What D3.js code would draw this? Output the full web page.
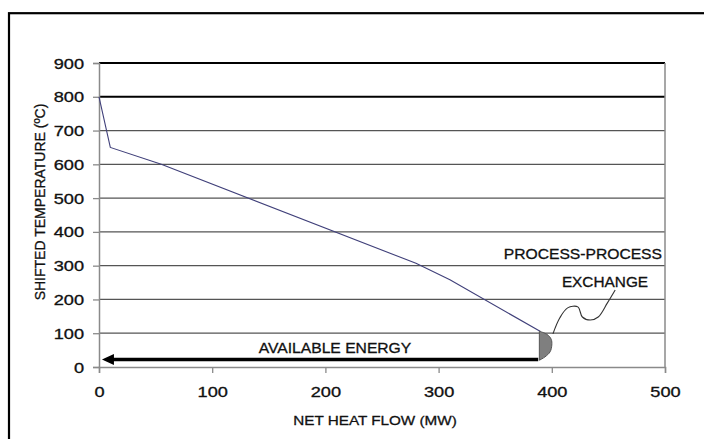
<!DOCTYPE html>
<html>
<head>
<meta charset="utf-8">
<script src="https://cdn.jsdelivr.net/npm/d3@7"></script>
<style>
  html, body { margin: 0; padding: 0; background: #fff; }
  svg { display: block; font-family: "Liberation Sans", Arial, sans-serif; }
  text { stroke: #111; stroke-width: 0.3px; }
</style>
</head>
<body>
<svg id="chart" width="704" height="439"></svg>
<script>
// ---- data ----
const xTicks = [0, 100, 200, 300, 400, 500];
const yTicks = [0, 100, 200, 300, 400, 500, 600, 700, 800, 900];
const heatFlow = [0, 10, 55, 280, 310, 390];          // MW
const temperature = [800, 650, 600, 307, 258, 105];  // °C
const exchangeX = [389, 396, 399.5, 400, 398.5, 394, 389];
const exchangeY = [106, 96, 82, 65, 45, 30, 20];
const leaderX = [401, 407, 414, 423, 427, 434, 441, 449, 456];
const leaderY = [98, 145, 175, 178, 148, 139, 148, 189, 228];
const arrowFrom = [388, 22];
const arrowTo = [2.6, 22];
const xTitle = "NET HEAT FLOW (MW)";
const yTitle = "SHIFTED TEMPERATURE (ºC)";
const labelEnergy = "AVAILABLE ENERGY";
const labelProc = "PROCESS-PROCESS";
const labelExch = "EXCHANGE";

// ---- layout ----
const svg = d3.select("#chart");
const x = d3.scaleLinear().domain([0, 500]).range([99, 665]);
const y = d3.scaleLinear().domain([0, 900]).range([367, 63]);

// outer frame
svg.append("rect").attr("x", 9).attr("y", 13.2).attr("width", 720).attr("height", 460)
  .attr("fill", "none").attr("stroke", "#000").attr("stroke-width", 2.2);

// gridlines
svg.append("g").selectAll("line").data(yTicks.filter(d => d > 0)).join("line")
  .attr("x1", x(0)).attr("x2", x(500))
  .attr("y1", d => y(d)).attr("y2", d => y(d))
  .attr("stroke", d => d >= 800 ? "#000" : "#555")
  .attr("stroke-width", d => d >= 800 ? 2 : 1.2);

// right border of plot
svg.append("line").attr("x1", x(500)).attr("x2", x(500)).attr("y1", y(900)).attr("y2", y(0))
  .attr("stroke", "#8a8a8a").attr("stroke-width", 1.5);

// axes
const yAxis = d3.axisLeft(y).tickValues(yTicks).tickSize(6).tickPadding(9).tickFormat(d3.format("d"));
const xAxis = d3.axisBottom(x).tickValues(xTicks).tickSize(6).tickPadding(14).tickFormat(d3.format("d"));

const gy = svg.append("g").attr("transform", `translate(${x(0)},0)`).call(yAxis);
const gx = svg.append("g").attr("transform", `translate(0,${y(0)})`).call(xAxis);
[gx, gy].forEach(g => {
  g.select(".domain").attr("stroke", "#8a8a8a").attr("stroke-width", 1.5);
  g.selectAll(".tick line").attr("stroke", "#8a8a8a").attr("stroke-width", 1.3);
  g.selectAll(".tick text").attr("font-size", 14).attr("fill", "#111")
    .attr("font-family", "'Liberation Sans', Arial, sans-serif");
});
gy.selectAll(".tick text").each(function() {
  d3.select(this).attr("x", null).attr("dy", null).attr("text-anchor", "end")
    .attr("transform", "translate(-15,5) scale(1.3,1)");
});
gx.selectAll(".tick text").each(function() {
  d3.select(this).attr("y", null).attr("dy", null).attr("text-anchor", "middle")
    .attr("transform", "translate(0,30) scale(1.3,1)");
});

// curve
const pts = heatFlow.map((d, i) => [d, temperature[i]]);
svg.append("path").datum(pts)
  .attr("d", d3.line().x(d => x(d[0])).y(d => y(d[1])))
  .attr("fill", "none").attr("stroke", "#40407a").attr("stroke-width", 1.1);

// exchange shape
const ex = exchangeX.map((d, i) => [d, exchangeY[i]]);
svg.append("path").datum(ex)
  .attr("d", d3.line().x(d => x(d[0])).y(d => y(d[1])).curve(d3.curveCatmullRom)(ex) + "Z")
  .attr("fill", "#7f7f7f").attr("stroke", "#555").attr("stroke-width", 1);

// leader line
const ld = leaderX.map((d, i) => [d, leaderY[i]]);
svg.append("path").datum(ld)
  .attr("d", d3.line().x(d => x(d[0])).y(d => y(d[1])).curve(d3.curveCatmullRom))
  .attr("fill", "none").attr("stroke", "#333").attr("stroke-width", 1.1);

// arrow
const ax1 = x(arrowFrom[0]), ay = y(arrowFrom[1]), tip = x(arrowTo[0]);
svg.append("line").attr("x1", ax1).attr("x2", tip + 10).attr("y1", ay).attr("y2", ay)
  .attr("stroke", "#000").attr("stroke-width", 3.6);
svg.append("path")
  .attr("d", `M${tip},${ay} L${tip + 12},${ay - 5.5} L${tip + 12},${ay + 5.5} Z`)
  .attr("fill", "#000");

// annotation texts
function label(txt, px, py, anchor, size, sx) {
  svg.append("text").text(txt)
    .attr("transform", `translate(${px},${py}) scale(${sx},1)`)
    .attr("text-anchor", anchor).attr("font-size", size).attr("fill", "#111");
}
label(labelEnergy, 335, 353, "middle", 14.5, 1.08);
label(labelProc, 662, 259, "end", 14.5, 1.08);
label(labelExch, 605, 287, "middle", 14.5, 1.06);

// axis titles
label(xTitle, 375, 425, "middle", 13.5, 1.13);
svg.append("text").text(yTitle)
  .attr("transform", "translate(45,202) rotate(-90)")
  .attr("text-anchor", "middle").attr("font-size", 14).attr("fill", "#111");
</script>
</body>
</html>
